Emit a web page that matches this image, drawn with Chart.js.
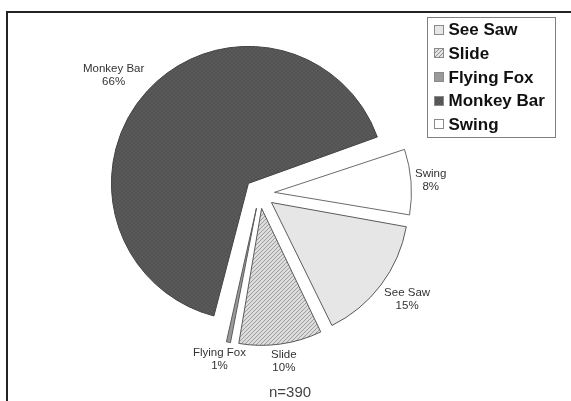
<!DOCTYPE html>
<html>
<head>
<meta charset="utf-8">
<script src="https://cdn.jsdelivr.net/npm/chart.js@4.4.1/dist/chart.umd.min.js"></script>
<style>
  html, body { margin: 0; padding: 0; background: #fff; }
  #wrap { position: relative; width: 571px; height: 401px; overflow: hidden; }
  #frame { position: absolute; left: 6px; top: 11px; width: 640px; height: 440px;
           border-left: 2px solid #222; border-top: 2px solid #222; }
  canvas { position: absolute; left: 0; top: 0; }
</style>
</head>
<body>
<div id="wrap">
  <div id="frame"></div>
  <canvas id="pie" width="571" height="401"></canvas>
</div>
<script>
// Playground equipment preference (percent of respondents)
const categories = ['See Saw', 'Slide', 'Flying Fox', 'Monkey Bar', 'Swing'];
const shares = [15, 10, 1, 66, 8];
const sampleSize = 390;

const canvas = document.getElementById('pie');
const ctx2d = canvas.getContext('2d');

// Small repeating textures for the patterned slices
function tile(size, paint) {
  const c = document.createElement('canvas');
  c.width = c.height = size;
  paint(c.getContext('2d'));
  return ctx2d.createPattern(c, 'repeat');
}
const checker = tile(4, g => {
  g.fillStyle = '#5b5b5b'; g.fillRect(0, 0, 4, 4);
  g.fillStyle = '#525252'; g.fillRect(0, 0, 2, 2); g.fillRect(2, 2, 2, 2);
});
const hatch = tile(4, g => {
  g.fillStyle = '#e2e2e2'; g.fillRect(0, 0, 4, 4);
  g.fillStyle = '#8e8e8e';
  for (let i = 0; i < 4; i++) g.fillRect(i, 3 - i, 1, 1);
});

const fills = ['#e6e6e6', hatch, '#9a9a9a', checker, '#ffffff'];
const edges = ['#5a5a5a', '#5a5a5a', '#5a5a5a', '#444444', '#6a6a6a'];

// Keep every exploded slice at the same radius as the others
const Arc = Chart.registry.getElement('arc');
const baseArcDraw = Arc.prototype.draw;
Arc.prototype.draw = function (ctx) {
  const off = (this.options.offset || 0) / 4;
  const grow = off * (1 - Math.sin(Math.min(Math.PI, this.circumference || 0)));
  const r = this.outerRadius;
  this.outerRadius = r - grow;
  baseArcDraw.call(this, ctx);
  this.outerRadius = r;
};

const clamp = v => Math.max(-1, Math.min(1, v));

// Two-line category / percent labels just outside each slice
const sliceLabels = {
  id: 'sliceLabels',
  afterDatasetsDraw(chart) {
    const ctx = chart.ctx;
    const meta = chart.getDatasetMeta(0);
    ctx.save();
    ctx.font = '11.5px "Liberation Sans", Arial, sans-serif';
    ctx.fillStyle = '#333';
    ctx.textAlign = 'center';
    ctx.textBaseline = 'middle';
    meta.data.forEach((arc, i) => {
      const mid = (arc.startAngle + arc.endAngle) / 2;
      const dx = Math.cos(mid), dy = Math.sin(mid);
      const off = (arc.options.offset || 0) / 4;
      const lines = [chart.data.labels[i], chart.data.datasets[0].data[i] + '%'];
      const w = Math.max(...lines.map(t => ctx.measureText(t).width));
      const h = 26;
      const reach = off + arc.outerRadius + 4;
      const cx = arc.x + dx * reach + (w / 2) * clamp(1.5 * dx);
      const cy = arc.y + dy * reach + (h / 2) * clamp(1.5 * dy);
      ctx.fillText(lines[0], cx, cy - 6.5);
      ctx.fillText(lines[1], cx, cy + 6.5);
    });
    ctx.restore();
  }
};

// Boxed legend in the upper right plus the sample-size note
const boxLegend = {
  id: 'boxLegend',
  afterDraw(chart) {
    const ctx = chart.ctx;
    const ds = chart.data.datasets[0];
    ctx.save();
    ctx.fillStyle = '#fff';
    ctx.fillRect(427.5, 17.5, 128, 120);
    ctx.strokeStyle = '#808080';
    ctx.lineWidth = 1;
    ctx.strokeRect(427.5, 17.5, 128, 120);
    ctx.font = 'bold 17px "Liberation Sans", Arial, sans-serif';
    ctx.textBaseline = 'middle';
    ctx.textAlign = 'left';
    chart.data.labels.forEach((name, i) => {
      const y = 29.5 + i * 23.7;
      ctx.fillStyle = ds.backgroundColor[i];
      ctx.fillRect(434.5, Math.round(y) - 4.5, 9, 9);
      ctx.strokeStyle = '#8a8a8a';
      ctx.strokeRect(434.5, Math.round(y) - 4.5, 9, 9);
      ctx.fillStyle = '#111';
      ctx.fillText(name, 448.5, y + 1);
    });
    ctx.font = '15px "Liberation Sans", Arial, sans-serif';
    ctx.fillStyle = '#444';
    ctx.textAlign = 'center';
    ctx.fillText('n=' + sampleSize, 290, 393);
    ctx.restore();
  }
};

new Chart(canvas, {
  type: 'pie',
  data: {
    labels: categories,
    datasets: [{
      data: shares,
      backgroundColor: fills,
      borderColor: edges,
      borderWidth: 1,
      offset: 60
    }]
  },
  options: {
    responsive: false,
    animation: false,
    events: [],
    rotation: 100,
    radius: 137,
    layout: { padding: { left: 0, right: 52, top: 0, bottom: 14 } },
    plugins: {
      legend: { display: false },
      tooltip: { enabled: false },
      title: { display: false }
    }
  },
  plugins: [sliceLabels, boxLegend]
});
</script>
</body>
</html>
